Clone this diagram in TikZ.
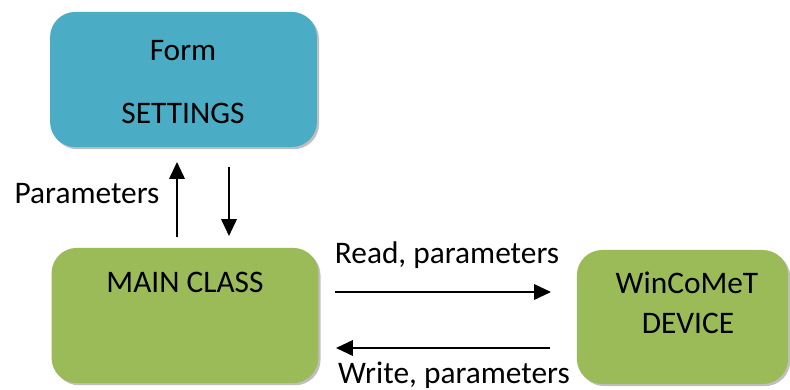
\documentclass[tikz,border=0pt]{standalone}
\usepackage{fontspec}
\setmainfont{Carlito}
\usepackage{xcolor}
\usetikzlibrary{positioning, shadows, arrows.meta}

\definecolor{formblue}{HTML}{4BACC6}
\definecolor{classgreen}{HTML}{9BBB59}

\tikzset{
  box/.style={rounded corners=18pt, minimum width=6.67cm, minimum height=3.38cm,
    drop shadow={shadow xshift=1.5pt, shadow yshift=-1.5pt, opacity=.5}},
  txt/.style={font=\fontsize{22.3}{26}\selectfont, anchor=base, inner sep=0pt},
  arr/.style={-{Triangle[length=12pt, width=11pt]}, line width=1.4pt}
}

\begin{document}
\begin{tikzpicture}[x=0.025cm, y=-0.025cm]
\useasboundingbox (0,0) rectangle (790,389);
% boxes
\node [box, fill=formblue] (settings) at (183.5,79.5) {};
\node [box, fill=classgreen] (main) at (185,315.5) {};
\node [box, fill=classgreen, minimum width=5.28cm, minimum height=3.35cm] (device) at (682.5,317) {};
% box texts
\node [txt] (form) at (183,60) {Form};
\node [txt] (settingstxt) at (183,123) {SETTINGS};
\node [txt] (maintxt) at (185,292) {MAIN CLASS};
\node [txt] (wincomet) at (687,293) {WinCoMeT};
\node [txt] (devicetxt) at (688,333) {DEVICE};
% connector ends
\coordinate (upstart) at (177,237);
\coordinate (upend) at (177,162);
\coordinate (downstart) at (229,167);
\coordinate (downend) at (229,236);
\coordinate (readstart) at (335,292);
\coordinate (readend) at (551,292);
\coordinate (writestart) at (550,348);
\coordinate (writeend) at (336,348);
% arrows
\draw [arr] (upstart) -- (upend);
\draw [arr] (downstart) -- (downend);
\draw [arr] (readstart) -- (readend);
\draw [arr] (writestart) -- (writeend);
% labels
\node [txt] (params) at (87,203) {Parameters};
\node [txt] (read) at (447,263) {Read, parameters};
\node [txt] (write) at (454,383) {Write, parameters};
\end{tikzpicture}
\end{document}
